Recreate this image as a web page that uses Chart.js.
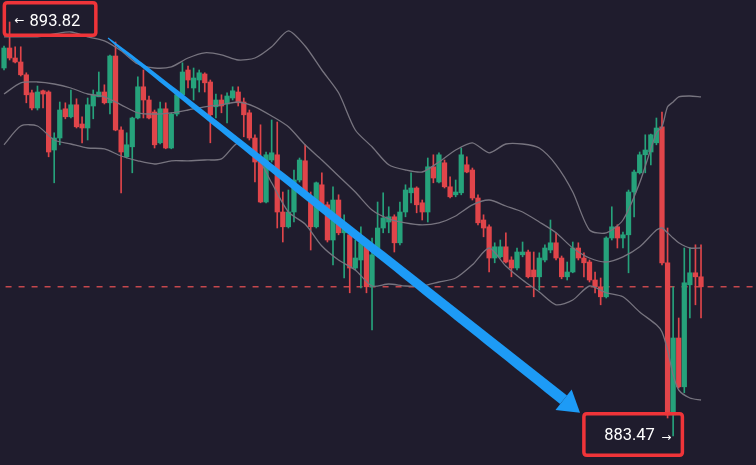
<!DOCTYPE html>
<html><head><meta charset="utf-8">
<script src="https://cdn.jsdelivr.net/npm/chart.js@4/dist/chart.umd.min.js"></script>
<style>html,body{margin:0;padding:0;background:#1f1c2d;overflow:hidden}#wrap{width:756px;height:465px;position:relative}</style>
</head><body><div id="wrap"><canvas id="c"></canvas></div>
<script>
const opens=[892.67,893.17,892.92,892.82,892.50,892.05,891.67,892.10,892.07,890.62,890.92,891.65,891.45,891.75,891.27,891.17,891.72,891.95,892.07,891.80,892.97,891.12,890.45,890.70,891.42,892.20,891.87,891.57,890.80,891.65,890.67,891.52,892.00,892.62,892.17,892.37,892.52,892.32,891.70,891.87,891.77,891.92,892.07,891.82,891.55,890.92,890.32,889.32,890.37,890.50,889.07,888.70,889.07,889.87,890.35,889.32,888.70,889.75,889.25,888.37,889.37,888.55,888.50,887.67,887.87,888.20,887.20,888.00,888.67,888.82,888.95,888.30,889.07,889.55,889.67,889.30,889.07,890.20,889.82,890.30,889.70,889.50,889.55,890.25,890.12,889.42,888.87,888.70,887.92,887.95,888.20,887.87,887.67,888.00,888.07,887.62,887.45,887.87,888.12,888.30,887.92,887.45,887.57,888.17,887.92,887.82,887.37,887.20,886.95,888.42,888.70,888.42,888.50,889.57,890.05,890.50,890.57,890.80,891.20,887.80,884.00,885.92,884.70,887.25,887.55,887.45];
const highs=[893.22,893.82,893.20,893.20,892.55,892.12,892.22,892.12,892.10,891.05,891.82,891.80,892.12,891.90,891.45,891.92,892.12,892.57,892.25,892.99,893.32,891.20,891.05,891.44,892.45,892.62,891.97,891.62,891.82,891.80,891.55,892.02,892.80,892.72,892.67,892.62,892.55,892.37,892.02,892.00,892.05,892.20,892.20,891.92,891.62,891.00,891.25,890.57,891.37,891.32,889.57,889.62,890.12,890.42,890.75,889.57,889.82,890.05,889.32,889.70,889.50,889.00,888.55,888.37,888.70,888.30,888.42,889.32,889.55,889.20,889.00,889.32,889.75,890.05,889.70,889.37,890.42,890.50,890.55,890.37,889.95,889.87,890.67,890.45,890.17,889.50,889.00,888.75,888.30,888.37,888.55,887.95,888.17,888.32,888.12,888.07,888.05,888.25,888.87,888.55,887.97,887.82,888.32,888.30,888.05,887.87,887.57,887.42,888.45,889.20,888.75,888.57,889.62,890.12,890.57,891.00,891.02,891.42,891.57,888.67,887.20,886.42,888.17,888.17,888.25,888.25];
const lows=[892.62,892.87,892.80,892.47,891.80,891.62,891.62,891.67,890.45,889.80,890.75,891.40,891.42,891.17,890.80,890.87,891.40,891.95,891.77,891.52,891.10,889.55,890.42,890.05,891.40,891.42,891.40,890.67,890.77,890.65,890.65,891.47,891.97,892.17,891.87,892.07,892.07,890.80,891.42,891.55,891.30,891.87,891.72,890.95,890.87,889.82,889.30,889.30,890.32,888.67,888.32,888.67,888.82,889.82,889.50,888.12,888.67,889.17,888.32,887.75,888.50,887.42,887.05,887.62,887.17,887.05,886.12,887.95,888.55,888.55,888.07,888.25,888.95,889.30,889.05,888.87,888.82,889.80,889.80,889.67,889.42,889.45,889.50,890.05,889.37,888.75,888.45,887.57,887.80,887.92,887.80,887.45,887.62,887.95,887.42,886.95,887.12,887.82,888.05,887.87,887.40,887.37,887.55,887.87,887.45,887.32,887.05,886.75,886.92,888.37,888.17,888.17,887.55,888.95,890.02,890.05,890.25,890.75,887.75,883.92,883.47,884.67,884.55,886.42,886.75,886.42];
const closes=[893.17,892.92,892.82,892.50,892.00,891.67,892.07,892.02,890.57,890.92,891.62,891.45,891.75,891.20,891.17,891.75,892.00,892.07,891.80,892.97,891.12,890.57,890.75,891.42,892.20,891.87,891.42,890.75,891.65,890.67,891.52,892.00,892.57,892.37,892.42,892.55,892.30,891.50,891.87,891.72,891.97,892.10,891.80,891.50,890.92,890.32,889.32,890.50,890.55,889.07,888.70,889.07,889.87,890.37,889.57,888.70,889.80,889.25,888.37,889.37,888.55,888.67,887.67,887.92,888.30,887.20,888.00,888.67,888.92,888.95,888.30,889.07,889.62,889.67,889.25,889.07,890.20,889.92,890.50,889.70,889.45,889.57,890.50,890.07,889.42,888.80,888.67,887.92,888.20,888.20,887.82,887.67,888.07,888.07,887.45,887.45,887.92,888.17,888.30,887.92,887.45,887.57,888.17,887.92,887.80,887.37,887.20,886.95,888.42,888.70,888.42,888.50,889.57,890.07,890.50,890.62,891.00,891.17,887.80,884.00,885.92,884.70,887.30,887.55,887.45,887.20];

const bandIdx=[0,3,6,9,12,15,18,21,24,27,30,33,36,39,42,45,48,51,54,57,60,63,66,69,72,75,78,81,84,87,90,93,96,99,102,105,108,111,114,117,118,119,120,121,123,125];
const bandUpper=[893.45,893.45,893.45,893.52,893.57,893.45,893.35,893.10,892.77,892.67,892.70,892.92,893.05,893.00,892.87,892.92,893.20,893.60,893.22,892.62,892.05,891.12,890.70,890.25,890.12,890.07,890.32,890.62,890.80,890.55,890.77,890.77,890.67,890.25,889.57,888.62,888.55,888.87,889.80,891.05,891.20,891.70,891.82,891.95,891.97,891.95];
const bandMiddle=[892.02,892.30,892.32,892.27,892.17,892.02,891.95,891.75,891.55,891.52,891.55,891.62,891.70,891.75,891.82,891.70,891.47,891.20,890.75,890.37,889.97,889.57,889.12,888.90,888.80,888.75,888.80,888.97,889.25,889.37,889.22,889.07,888.82,888.55,888.17,887.92,887.82,887.95,888.20,888.62,888.67,888.55,888.42,888.30,888.17,888.17];
const bandLower=[890.75,891.22,891.22,890.87,890.77,890.67,890.65,890.47,890.35,890.27,890.35,890.35,890.37,890.40,890.80,890.55,889.80,889.07,888.77,888.22,887.87,887.62,887.22,887.27,887.22,887.22,887.32,887.42,887.75,888.17,887.72,887.37,887.07,886.75,886.87,887.22,887.05,886.95,886.57,886.25,886.07,885.62,885.00,884.62,884.42,884.37];

const dashLevel=887.20;
const highLabel={idx:1,value:893.82,text:'893.82'};
const lowLabel={idx:120,value:883.47,text:'883.47'};
const arrowFrom={x:18.65,y:893.42};
const arrowTo={x:103.3,y:884.05};

const UP='#26a27b', DOWN='#e0454a', BAND='#77747f', BG='#1f1c2d';
const X_MIN=-0.72, X_MAX=134.86, Y_MIN=882.745, Y_MAX=894.37;

const idx=opens.map((_,i)=>i);
const colors=idx.map(i=>closes[i]>=opens[i]?UP:DOWN);
const wickData=idx.map(i=>({x:i,y:[lows[i],highs[i]]}));
const bodyData=idx.map(i=>({x:i,y:[opens[i],closes[i]]}));
const mkBand=arr=>bandIdx.map((v,i)=>({x:v,y:arr[i]}));

const overlay={
  id:'overlay',
  beforeDraw(chart){const c=chart.ctx;c.save();c.fillStyle=BG;c.fillRect(0,0,chart.width,chart.height);c.restore();},
  afterDatasetsDraw(chart){
    const c=chart.ctx,xs=chart.scales.x,ys=chart.scales.y;
    const ax0=xs.getPixelForValue(arrowFrom.x),ay0=ys.getPixelForValue(arrowFrom.y);
    const ax1=xs.getPixelForValue(arrowTo.x),ay1=ys.getPixelForValue(arrowTo.y);
    const dx=ax1-ax0,dy=ay1-ay0,L=Math.hypot(dx,dy),ux=dx/L,uy=dy/L,nx=-uy,ny=ux;
    const headLen=21,headHalf=13;
    const bx=ax1-ux*headLen,by=ay1-uy*headLen;
    c.save();c.fillStyle='#1d9bf6';
    c.beginPath();
    const N=60,left=[],right=[];
    for(let k=0;k<=N;k++){const t=k/N;const px=ax0+(bx-ax0)*t,py=ay0+(by-ay0)*t;const w=(1+10*Math.sqrt(t))/2;left.push([px+nx*w,py+ny*w]);right.push([px-nx*w,py-ny*w]);}
    c.moveTo(left[0][0],left[0][1]);
    left.forEach(p=>c.lineTo(p[0],p[1]));
    right.reverse().forEach(p=>c.lineTo(p[0],p[1]));
    c.closePath();c.fill();
    c.beginPath();c.moveTo(ax1,ay1);c.lineTo(bx+nx*headHalf,by+ny*headHalf);c.lineTo(bx-nx*headHalf,by-ny*headHalf);c.closePath();c.fill();
    c.restore();
  },
  afterDraw(chart){
    const c=chart.ctx,xs=chart.scales.x,ys=chart.scales.y;
    function rr(x,y,w,h,r){c.beginPath();c.moveTo(x+r,y);c.lineTo(x+w-r,y);c.quadraticCurveTo(x+w,y,x+w,y+r);c.lineTo(x+w,y+h-r);c.quadraticCurveTo(x+w,y+h,x+w-r,y+h);c.lineTo(x+r,y+h);c.quadraticCurveTo(x,y+h,x,y+h-r);c.lineTo(x,y+r);c.quadraticCurveTo(x,y,x+r,y);c.closePath();}
    c.save();
    c.strokeStyle='#ef3439';c.lineWidth=3.5;c.fillStyle='#ffffff';
    let px=xs.getPixelForValue(highLabel.idx),py=ys.getPixelForValue(highLabel.value);
    rr(px-7+1.75,py-21+1.75,95-3.5,36-3.5,3);c.stroke();
    c.font='12px "DejaVu Sans"';c.textBaseline='middle';c.fillText('←',px+5,py-1);
    c.font='16.5px Roboto';c.textBaseline='alphabetic';c.fillText(highLabel.text,px+20,py+3.5);
    px=xs.getPixelForValue(lowLabel.idx);py=ys.getPixelForValue(lowLabel.value);
    rr(px-91+1.75,py-24+1.75,102-3.5,45-3.5,3);c.stroke();
    c.font='16.5px Roboto';c.textBaseline='alphabetic';c.fillText(lowLabel.text,px-69,py+3.5);
    c.font='12px "DejaVu Sans"';c.textBaseline='middle';c.fillText('→',px-12,py+1.5);
    c.restore();
  }
};

new Chart(document.getElementById('c'),{
  type:'bar',
  data:{datasets:[
    {type:'line',label:'upper',data:mkBand(bandUpper),borderColor:BAND,borderWidth:1.3,pointRadius:0,tension:0.25,order:0},
    {type:'line',label:'middle',data:mkBand(bandMiddle),borderColor:BAND,borderWidth:1.3,pointRadius:0,tension:0.25,order:0},
    {type:'line',label:'lower',data:mkBand(bandLower),borderColor:BAND,borderWidth:1.3,pointRadius:0,tension:0.25,order:0},
    {type:'bar',label:'body',data:bodyData,backgroundColor:colors,grouped:false,barThickness:4.6,maxBarThickness:4.6,minBarLength:1,order:1},
    {type:'bar',label:'wick',data:wickData,backgroundColor:colors,grouped:false,barThickness:1,maxBarThickness:1,order:2},
    {type:'line',label:'level',data:[{x:X_MIN+1,y:dashLevel},{x:X_MAX,y:dashLevel}],borderColor:'#c5474d',borderWidth:1.4,borderDash:[6,7],pointRadius:0,order:3}
  ]},
  options:{
    responsive:true,maintainAspectRatio:false,animation:false,
    layout:{padding:0},
    plugins:{legend:{display:false},tooltip:{enabled:false}},
    scales:{
      x:{type:'linear',min:X_MIN,max:X_MAX,display:false,offset:false},
      y:{min:Y_MIN,max:Y_MAX,display:false}
    }
  },
  plugins:[overlay]
});
</script></body></html>
